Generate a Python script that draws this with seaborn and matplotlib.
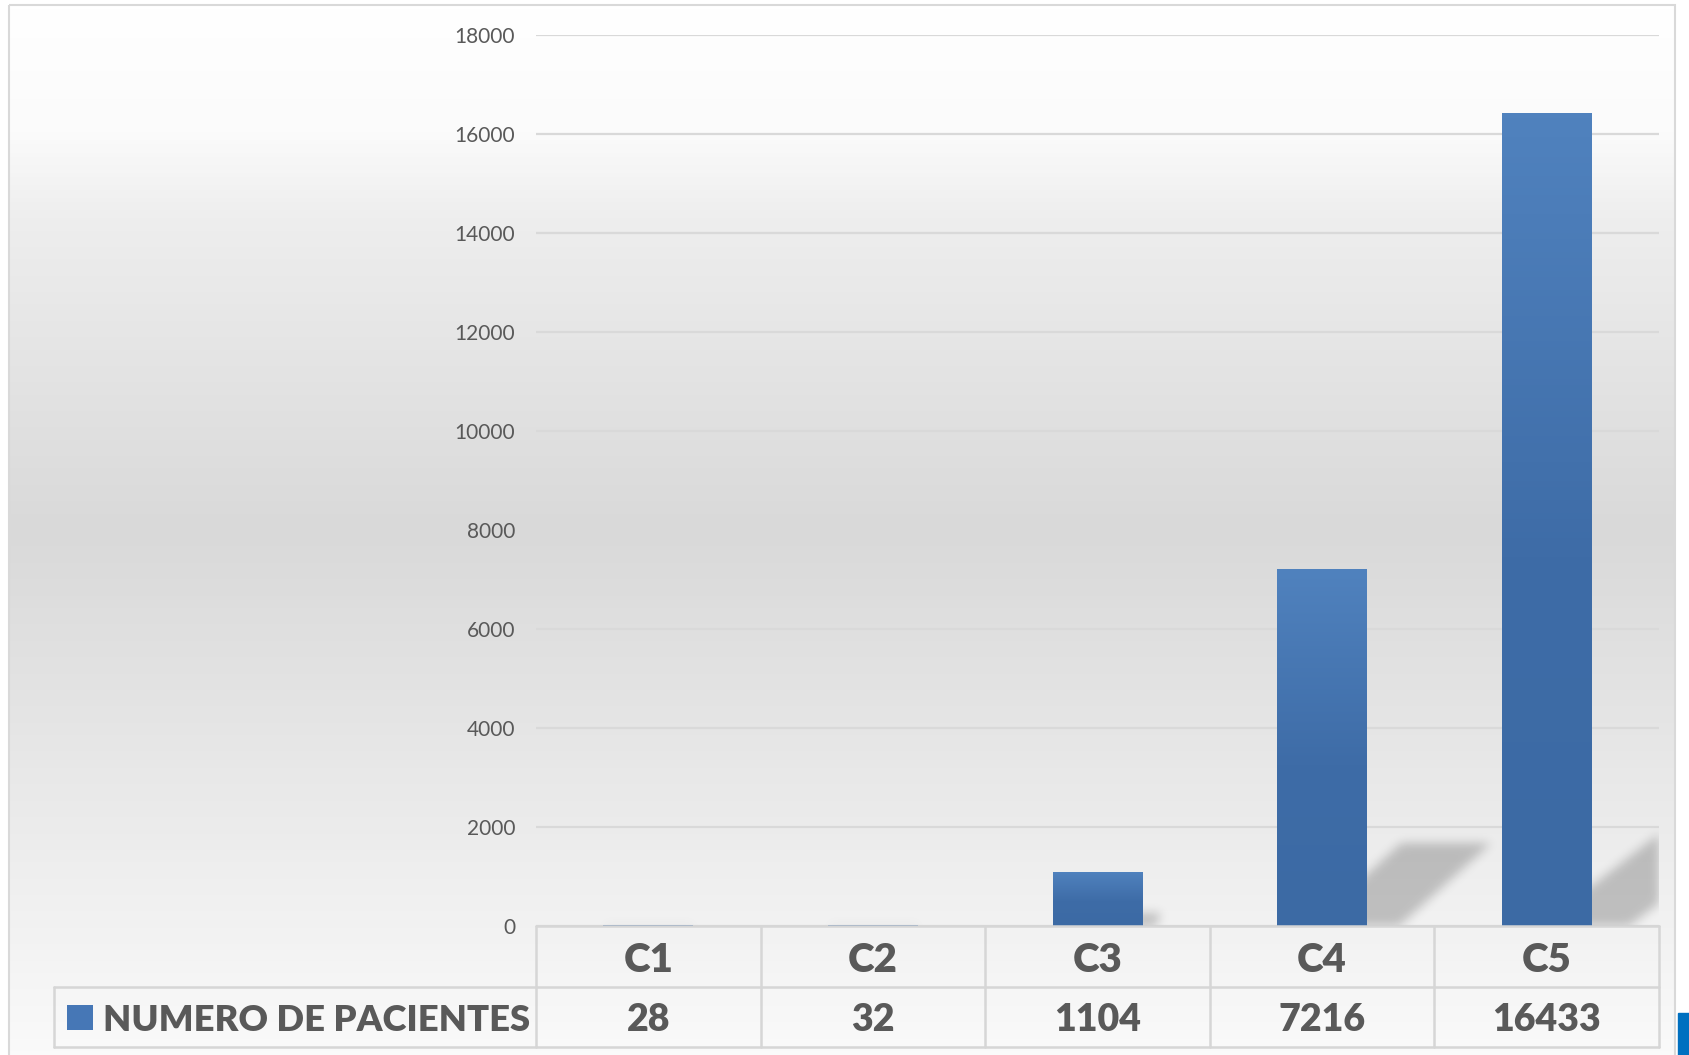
import numpy as np
import pandas as pd
import matplotlib
matplotlib.use('Agg')
import matplotlib.pyplot as plt
import seaborn as sns
from matplotlib.colors import LinearSegmentedColormap
from matplotlib.patches import Rectangle
from matplotlib.path import Path
import matplotlib.transforms as mtransforms

# ---------------- data ----------------
categories = ['C1', 'C2', 'C3', 'C4', 'C5']
values = [28, 32, 1104, 7216, 16433]
series_name = 'NUMERO DE PACIENTES'
yticks = list(range(0, 18001, 2000))

sns.set_theme(style='white')
plt.rcParams['font.family'] = ['Lato', 'DejaVu Sans']

W, H = 1689, 1055
fig = plt.figure(figsize=(W / 100, H / 100), dpi=100)
fig.patch.set_facecolor('white')

# ---------------- chart-area background gradient ----------------
bg = fig.add_axes([0, 0, 1, 1], zorder=0)
bg.set_xlim(0, W)
bg.set_ylim(H, 0)
bg.axis('off')
bg_cmap = LinearSegmentedColormap.from_list(
    'bg', [(0.0, '#ffffff'), (0.12, '#fbfbfb'), (0.2, '#eeeeee'),
           (0.5, '#d9d9d9'), (0.85, '#f0f0f0'), (1.0, '#fafafa')])
grad = np.linspace(0, 1, 256).reshape(-1, 1)
bg.imshow(grad, extent=[9, 1675, H, 5], aspect='auto', cmap=bg_cmap,
          vmin=0, vmax=1, origin='upper', zorder=0)
bg.add_patch(Rectangle((9, 5), 1666, H, fill=False, edgecolor='#d9d9d9',
                       lw=1.5, zorder=1))
bg.add_patch(Rectangle((1678, 1013), 11, 42, color='#0070c0', zorder=2))

# ---------------- main axes ----------------
ax = fig.add_axes([0.3174, 0.1219, 0.6648, 0.8445], zorder=2)
ax.patch.set_alpha(0)
df = pd.DataFrame({'cat': categories, 'val': values})
sns.barplot(data=df, x='cat', y='val', ax=ax, color='#4a7ebb', width=0.4,
            saturation=1, linewidth=0, zorder=4)

ax.set_ylim(0, 18000)
ax.set_xlim(-0.5, len(categories) - 0.5)
ax.set_yticks(yticks)
ax.set_yticklabels([str(t) for t in yticks])
ax.tick_params(axis='y', length=0, pad=15, labelsize=15, labelcolor='#595959')
ax.tick_params(axis='x', length=0, labelbottom=False)
ax.set_xlabel('')
ax.set_ylabel('')
for s in ax.spines.values():
    s.set_visible(False)
ax.yaxis.grid(True, color='#d9d9d9', lw=1.6, zorder=1)
ax.set_axisbelow(True)

# bar gradients
bar_cmap = LinearSegmentedColormap.from_list(
    'bar', [(0.0, '#3c6aa4'), (0.45, '#3e6ca7'), (1.0, '#5082be')])
for p in list(ax.patches):
    x0, y0 = p.get_x(), p.get_y()
    w, h = p.get_width(), p.get_height()
    if h <= 0:
        continue
    im = ax.imshow(np.linspace(0, 1, 128).reshape(-1, 1), cmap=bar_cmap,
                   extent=[x0, x0 + w, y0, y0 + h], origin='lower',
                   aspect='auto', zorder=5)
    im.set_clip_path(p)

# blurred perspective shadows (derived from bar values)
nx, ny = 1123, 891
xs = np.linspace(-0.5, len(categories) - 0.5, nx)
ys = np.linspace(0, 18000, ny)
gx, gy = np.meshgrid(xs, ys)
pts = np.column_stack([gx.ravel(), gy.ravel()])
mask = np.zeros(gx.size)
for i, v in enumerate(values):
    xl, xr = i - 0.2, i + 0.2
    dx = v * 7.7e-5
    hs = v * 0.232
    path = Path([(xl, -600), (xr, -600), (xr + dx, hs), (xl + dx, hs), (xl, -600)])
    mask = np.maximum(mask, path.contains_points(pts).astype(float))
mask = mask.reshape(ny, nx)


def blur(a, r):
    k = np.exp(-0.5 * (np.arange(-3 * r, 3 * r + 1) / r) ** 2)
    k /= k.sum()
    a = np.apply_along_axis(lambda m: np.convolve(m, k, mode='same'), 0, a)
    a = np.apply_along_axis(lambda m: np.convolve(m, k, mode='same'), 1, a)
    return a


mask = blur(mask, 5)
rgba = np.zeros((ny, nx, 4))
rgba[..., 3] = mask * 0.21
ax.imshow(rgba, extent=[xs[0], xs[-1], 0, 18000], origin='lower',
          aspect='auto', zorder=3, interpolation='bilinear')
ax.set_ylim(0, 18000)
ax.set_xlim(-0.5, len(categories) - 0.5)
ax.set_aspect('auto')

# ---------------- data table ----------------
blend = mtransforms.blended_transform_factory(ax.transData, ax.transAxes)
r0, r1, r2 = 0.0, -0.068, -0.1354
leg_left = -0.429
lc = '#d6d6d6'
lw = 1.8
ax.plot([0, 1], [r0, r0], transform=ax.transAxes, color=lc, lw=lw, clip_on=False, zorder=6)
ax.plot([leg_left, 1], [r1, r1], transform=ax.transAxes, color=lc, lw=lw, clip_on=False, zorder=6)
ax.plot([leg_left, 1], [r2, r2], transform=ax.transAxes, color=lc, lw=lw, clip_on=False, zorder=6)
ax.plot([leg_left, leg_left], [r1, r2], transform=ax.transAxes, color=lc, lw=lw, clip_on=False, zorder=6)
for i in range(len(categories) + 1):
    ax.plot([i - 0.5, i - 0.5], [r0, r2], transform=blend, color=lc, lw=lw,
            clip_on=False, zorder=6)

for i, (c, v) in enumerate(zip(categories, values)):
    ax.text(i, (r0 + r1) / 2, c, transform=blend, ha='center', va='center_baseline',
            fontsize=29, fontweight='heavy', color='#595959')
    ax.text(i, (r1 + r2) / 2, str(v), transform=blend, ha='center', va='center_baseline',
            fontsize=27, fontweight='heavy', color='#595959')

# legend key + series name
key = Rectangle((-0.4176, -0.1163), 0.0232, 0.0281, transform=ax.transAxes,
                clip_on=False, facecolor='#4677b6', edgecolor='none', zorder=6)
ax.add_patch(key)
ax.text(-0.3856, (r1 + r2) / 2, series_name, transform=ax.transAxes, ha='left',
        va='center_baseline', fontsize=26.2, fontweight='heavy', color='#595959')

fig.savefig('out.png', dpi=100)
